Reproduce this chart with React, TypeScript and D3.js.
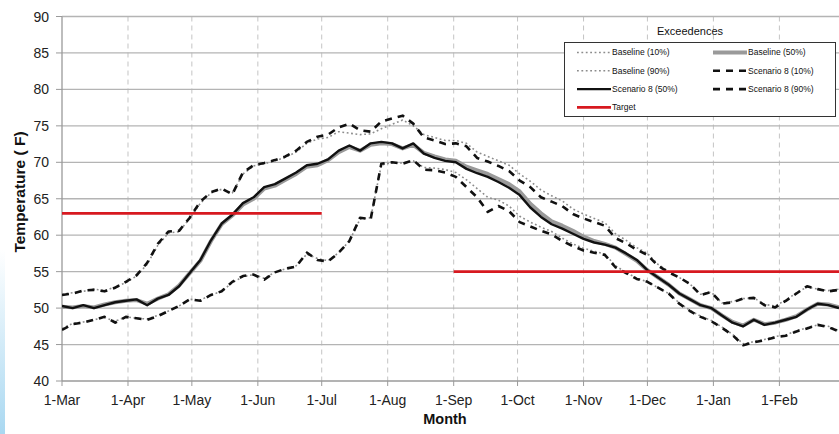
import React from "react";
import * as d3 from "d3";

const W = 839;
const H = 434;

const days = d3.range(0, 366, 5);

const monthDays = [0, 31, 61, 92, 122, 153, 184, 214, 245, 275, 306, 337];
const monthLabels = ["1-Mar", "1-Apr", "1-May", "1-Jun", "1-Jul", "1-Aug", "1-Sep", "1-Oct", "1-Nov", "1-Dec", "1-Jan", "1-Feb"];
const yTicks = [40, 45, 50, 55, 60, 65, 70, 75, 80, 85, 90];

const scen50 = [50.3, 50.0, 50.4, 50.0, 50.4, 50.8, 51.0, 51.2, 50.4, 51.3, 51.8, 53.0, 54.8, 56.6, 59.3, 61.6, 62.8, 64.4, 65.2, 66.6, 67.0, 67.8, 68.6, 69.6, 69.8, 70.4, 71.6, 72.3, 71.6, 72.6, 72.8, 72.6, 71.9, 72.6, 71.2, 70.6, 70.2, 70.0, 69.1, 68.5, 68.0, 67.3, 66.5, 65.5, 63.8, 62.5, 61.5, 60.9, 60.2, 59.5, 59.0, 58.7, 58.3, 57.5, 56.6, 55.2, 54.2, 53.2, 52.0, 51.2, 50.4, 50.0, 49.0, 48.0, 47.5, 48.4, 47.7, 48.0, 48.4, 48.8, 49.8, 50.6, 50.4, 50.0];
const scen10 = [51.8, 52.0, 52.4, 52.5, 52.3, 52.8, 53.6, 54.5, 56.2, 58.8, 60.5, 60.6, 62.4, 64.6, 65.9, 66.4, 65.6, 68.6, 69.6, 69.9, 70.3, 70.8, 71.6, 72.8, 73.5, 73.8, 74.8, 75.3, 74.4, 74.2, 75.6, 76.0, 76.4, 75.3, 73.4, 73.0, 72.5, 72.6, 72.2, 70.6, 70.1, 69.5, 68.8, 67.5, 66.6, 65.2, 64.6, 64.0, 62.9, 62.3, 61.8, 61.3, 59.6, 58.9, 58.0, 57.3, 55.8, 54.9, 54.2, 53.3, 51.8, 52.2, 50.6, 50.8, 51.3, 51.4, 50.4, 50.1, 51.0, 52.0, 53.0, 52.6, 52.3, 52.5];
const scen90 = [47.0, 47.8, 48.0, 48.4, 48.8, 48.0, 48.8, 48.6, 48.4, 48.9, 49.6, 50.3, 51.2, 51.0, 51.8, 52.3, 53.6, 54.4, 54.6, 53.9, 54.9, 55.4, 55.7, 57.6, 56.6, 56.4, 57.6, 59.2, 62.4, 62.2, 69.8, 70.0, 69.8, 70.3, 69.0, 68.9, 68.6, 68.0, 66.6, 65.2, 63.2, 64.0, 63.3, 61.8, 61.2, 60.6, 60.1, 59.2, 58.5, 57.9, 57.6, 57.3, 55.6, 54.8, 54.0, 53.6, 52.8, 52.0, 50.6, 49.6, 48.8, 48.2, 47.3, 46.3, 44.9, 45.3, 45.6, 46.0, 46.2, 46.8, 47.2, 47.7, 47.4, 46.8];
const base50 = [50.2, 50.1, 50.3, 50.1, 50.5, 50.8, 51.0, 51.1, 50.6, 51.3, 51.9, 53.1, 54.8, 56.5, 59.2, 61.5, 62.7, 64.2, 65.0, 66.4, 66.8, 67.6, 68.4, 69.4, 69.6, 70.3, 71.4, 72.1, 71.6, 72.4, 72.6, 72.5, 71.9, 72.4, 71.3, 70.8, 70.4, 70.2, 69.4, 68.9, 68.4, 67.7, 67.0, 66.0, 64.3, 63.0, 61.9, 61.3, 60.6, 59.8, 59.2, 58.8, 58.3, 57.4, 56.5, 55.2, 54.2, 53.2, 52.0, 51.2, 50.4, 50.0, 49.0, 48.1, 47.6, 48.4, 47.8, 48.0, 48.4, 48.9, 49.8, 50.6, 50.5, 50.1];
const base10 = [51.9, 52.1, 52.3, 52.6, 52.4, 52.9, 53.5, 54.4, 56.0, 58.6, 60.3, 60.5, 62.3, 64.4, 65.8, 66.3, 65.8, 68.4, 69.5, 69.8, 70.2, 70.7, 71.4, 72.6, 73.2, 73.4, 74.2, 74.0, 73.8, 73.9, 74.6, 75.2, 75.8, 75.0, 73.8, 73.4, 73.0, 73.0, 72.6, 71.4, 70.8, 70.2, 69.6, 68.4, 67.4, 66.2, 65.4, 64.7, 63.6, 62.9, 62.3, 61.7, 60.2, 59.3, 58.3, 57.5, 56.0, 55.0, 54.2, 53.3, 51.9, 52.2, 50.7, 50.9, 51.3, 51.4, 50.5, 50.3, 51.1, 52.1, 52.9, 52.6, 52.4, 52.6];
const base90 = [47.2, 47.9, 48.1, 48.4, 48.7, 48.2, 48.8, 48.6, 48.5, 49.0, 49.6, 50.3, 51.2, 51.1, 51.8, 52.3, 53.5, 54.3, 54.6, 54.1, 54.9, 55.4, 55.8, 57.4, 56.8, 56.5, 57.6, 59.2, 62.2, 62.4, 69.6, 70.0, 69.9, 70.2, 69.3, 69.2, 69.0, 68.6, 67.6, 66.4, 65.2, 64.8, 64.0, 62.6, 61.8, 61.1, 60.5, 59.6, 58.8, 58.2, 57.8, 57.4, 55.8, 54.9, 54.1, 53.6, 52.8, 52.0, 50.7, 49.7, 48.9, 48.3, 47.4, 46.4, 45.1, 45.4, 45.7, 46.1, 46.3, 46.9, 47.3, 47.7, 47.5, 46.9];

const targetSegments = [
  { start: 0, end: 122, value: 63 },
  { start: 184, end: 365, value: 55 },
];

const x = d3.scaleLinear().domain([0, 365]).range([62, 839]);
const y = d3.scaleLinear().domain([40, 90]).range([381, 16.5]);

const line = d3
  .line<number>()
  .x((_, i) => x(days[i]))
  .y((v) => y(v));

type Style = { stroke: string; width: number; dash?: string };
const sBaseDot: Style = { stroke: "#8c8c8c", width: 1.6, dash: "1.8,2.6" };
const sBase50: Style = { stroke: "#9a9a9a", width: 4 };
const sScenDash: Style = { stroke: "#111", width: 2.6, dash: "7,6" };
const sScen50: Style = { stroke: "#111", width: 2.4 };
const sTarget: Style = { stroke: "#d71920", width: 2.6 };

const series: { data: number[]; st: Style }[] = [
  { data: base10, st: sBaseDot },
  { data: base90, st: sBaseDot },
  { data: base50, st: sBase50 },
  { data: scen10, st: sScenDash },
  { data: scen90, st: sScenDash },
  { data: scen50, st: sScen50 },
];

const legendItems: { label: string; st: Style; col: number; row: number }[] = [
  { label: "Baseline (10%)", st: sBaseDot, col: 0, row: 0 },
  { label: "Baseline (50%)", st: sBase50, col: 1, row: 0 },
  { label: "Baseline (90%)", st: sBaseDot, col: 0, row: 1 },
  { label: "Scenario 8 (10%)", st: sScenDash, col: 1, row: 1 },
  { label: "Scenario 8 (50%)", st: sScen50, col: 0, row: 2 },
  { label: "Scenario 8 (90%)", st: sScenDash, col: 1, row: 2 },
  { label: "Target", st: sTarget, col: 0, row: 3 },
];

export default function App() {
  const font = "'Liberation Sans', Arial, sans-serif";
  return (
    <svg
      width={W}
      height={H}
      style={{ position: "absolute", left: 0, top: 0, background: "#fff" }}
      fontFamily={font}
    >
      <defs>
        <linearGradient id="edge" x1="0" y1="0" x2="0" y2="1">
          <stop offset="0" stopColor="#ffffff" />
          <stop offset="1" stopColor="#a9d8f1" />
        </linearGradient>
        <clipPath id="plot">
          <rect x={62} y={10} width={W - 62} height={372} />
        </clipPath>
      </defs>
      <rect x={0} y={250} width={5} height={H - 250} fill="url(#edge)" />

      {/* vertical dashed grid */}
      {monthDays.slice(1).map((d) => (
        <line key={"v" + d} x1={x(d)} x2={x(d)} y1={y(90)} y2={y(40)} stroke="#c4c4c4" strokeWidth={1} strokeDasharray="5,4" />
      ))}
      {/* horizontal grid */}
      {yTicks.slice(1).map((t) => (
        <line key={"h" + t} x1={62} x2={W} y1={y(t)} y2={y(t)} stroke="#b4b4b4" strokeWidth={1.3} />
      ))}

      {/* axes */}
      <line x1={62} x2={62} y1={y(90)} y2={y(40)} stroke="#9a9a9a" strokeWidth={1.3} />
      <line x1={62} x2={W} y1={y(40)} y2={y(40)} stroke="#9a9a9a" strokeWidth={1.5} />
      {yTicks.map((t) => (
        <g key={"yt" + t}>
          <line x1={56} x2={62} y1={y(t)} y2={y(t)} stroke="#9a9a9a" strokeWidth={1} />
          <text x={49} y={y(t)} dy="0.36em" textAnchor="end" fontSize={14} fill="#222">
            {t}
          </text>
        </g>
      ))}
      {monthDays.map((d, i) => (
        <g key={"xt" + d}>
          <line x1={x(d)} x2={x(d)} y1={y(40)} y2={y(40) + 5} stroke="#9a9a9a" strokeWidth={1} />
          <text x={x(d)} y={405} textAnchor="middle" fontSize={14} fill="#222">
            {monthLabels[i]}
          </text>
        </g>
      ))}
      <text x={445} y={424} textAnchor="middle" fontSize={14.5} fontWeight="bold" fill="#111">
        Month
      </text>
      <text
        transform={`translate(25,192) rotate(-90)`}
        textAnchor="middle"
        fontSize={15.5}
        fontWeight="bold"
        fill="#111"
      >
        Temperature ( F)
      </text>

      {/* series */}
      <g clipPath="url(#plot)">
        {series.map((s, i) => (
          <path
            key={"s" + i}
            d={line(s.data) || ""}
            fill="none"
            stroke={s.st.stroke}
            strokeWidth={s.st.width}
            strokeDasharray={s.st.dash}
            strokeLinejoin="round"
          />
        ))}
        {targetSegments.map((t, i) => (
          <line
            key={"t" + i}
            x1={x(t.start)}
            x2={x(t.end)}
            y1={y(t.value)}
            y2={y(t.value)}
            stroke={sTarget.stroke}
            strokeWidth={sTarget.width}
          />
        ))}
      </g>

      {/* legend */}
      <text x={690} y={35} textAnchor="middle" fontSize={11} fill="#111">
        Exceedences
      </text>
      <rect x={564.5} y={42.5} width={271} height={74} fill="#fff" stroke="#333" strokeWidth={1} />
      {legendItems.map((it) => {
        const lx = it.col === 0 ? 577 : 713;
        const ly = 52.5 + it.row * 18.3;
        return (
          <g key={it.label}>
            <line
              x1={lx}
              x2={lx + 34}
              y1={ly}
              y2={ly}
              stroke={it.st.stroke}
              strokeWidth={it.st.width}
              strokeDasharray={it.st.dash}
            />
            <text x={lx + 35} y={ly} dy="0.35em" fontSize={8.5} fill="#111">
              {it.label}
            </text>
          </g>
        );
      })}
    </svg>
  );
}
